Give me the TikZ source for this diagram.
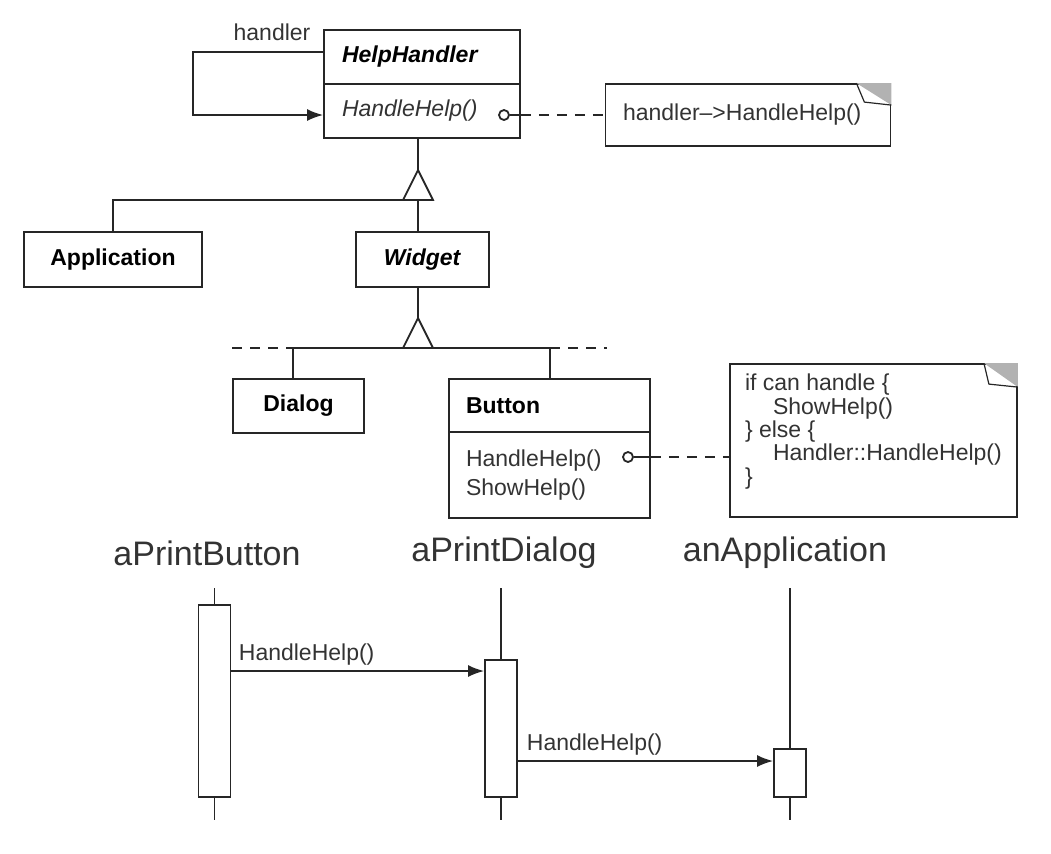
\documentclass[tikz,border=0pt]{standalone}
\usepackage{fontspec}
\setmainfont{Liberation Sans}
\usetikzlibrary{arrows.meta,positioning}

\begin{document}
\begin{tikzpicture}[x=0.5pt,y=-0.5pt,line width=0.9pt,draw=black!85]
                \tikzstyle{every node}+=[inner sep=0pt, text=black!80, font=\fontsize{11.5}{13}\selectfont]
                \tikzstyle{cls}=[draw, rectangle, minimum height=27pt]
                \tikzstyle{note}=[draw, rectangle]
                \tikzstyle{dot}=[draw, circle, fill=white, minimum size=5pt]
                \tikzstyle{call}=[-{Latex[length=8pt,width=6pt]}]
                \tikzstyle{act}=[draw, rectangle, fill=white, minimum width=16pt]
                \tikzstyle{obj}=[font=\fontsize{17}{20}\selectfont]
                \useasboundingbox (0,0) rectangle (1051,853);
                % class diagram
                \node [cls, minimum width=98pt, text width=80pt, align=left] (hh) at (422,57) {\textcolor{black}{\textbf{\textit{HelpHandler}}}};
                \node [cls, minimum width=98pt, text width=80pt, align=left] (hhm) at (422,111) {\textit{HandleHelp()}};
                \node (lbl) at (272,32) {handler};
                \draw [call] ([yshift=2.5pt]hh.west) -- ++(-65pt,0) |- ([yshift=-2pt]hhm.west);
                \node [note, minimum width=142.5pt, minimum height=31pt, text width=125pt, align=left] (n1) at (748,115) {handler--{>}HandleHelp()};
                \fill [gray!60] ([xshift=-17.5pt]n1.north east) -- (n1.north east) -- ([yshift=-11pt]n1.north east) -- cycle;
                \draw [line width=0.6pt] ([xshift=-17.5pt]n1.north east) -- ([xshift=-13.5pt,yshift=-9.5pt]n1.north east) -- ([yshift=-11pt]n1.north east);
                \node [dot] (c1) at (504,115) {};
                \draw (c1) -- (hhm.east |- c1);
                \draw [dashed, dash pattern=on 5pt off 4pt] (hhm.east |- c1) -- (n1.west |- c1);
                \node [cls, minimum width=89pt, minimum height=27.5pt] (app) at (113,259.5) {\textcolor{black}{\textbf{Application}}};
                \node [cls, minimum width=66.5pt, minimum height=27.5pt] (wdg) at (422.5,259.5) {\textcolor{black}{\textbf{\textit{Widget}}}};
                \coordinate (t1) at (418,170);
                \draw (hhm.south -| t1) -- (t1);
                \draw (t1) -- ++(15,30) -- ++(-30,0) -- cycle;
                \draw (403,200) -| (app.north);
                \draw (t1) ++(0,30) -- (wdg.north -| t1);
                \coordinate (t2) at (418,318);
                \draw (wdg.south -| t2) -- (t2);
                \draw (t2) -- ++(15,30) -- ++(-30,0) -- cycle;
                \node [cls, minimum width=65.5pt] (dlg) at (298.5,406) {\textcolor{black}{\textbf{Dialog}}};
                \node [cls, minimum width=100.5pt, minimum height=26.5pt, text width=83.5pt, align=left] (btn) at (549.5,405.5) {\textcolor{black}{\textbf{Button}}};
                \node [cls, minimum width=100.5pt, minimum height=43pt, text width=83.5pt, align=left, font=\fontsize{11.5}{14.5}\selectfont] (btnm) at (549.5,475) {HandleHelp()\\ShowHelp()};
                \coordinate (b1) at (293,348);
                \coordinate (b2) at (550,348);
                \draw (dlg.north -| b1) -- (b1) -- (b2) -- (btn.north -| b2);
                \draw [dashed, dash pattern=on 5pt off 4pt] (232,348) -- (b1);
                \draw [dashed, dash pattern=on 5pt off 4pt] (b2) -- (607,348);
                \node [note, minimum width=143.5pt, minimum height=76.5pt] (n2) at (873.5,440.5) {};
                \node [anchor=north west, align=left, font=\fontsize{11.5}{10}\selectfont] (n2t) at ([xshift=7.5pt,yshift=-5pt]n2.north west) {if can handle \{\\\hspace*{14pt}ShowHelp()\\\} else \{\\\hspace*{14pt}Handler::HandleHelp()\\\}};
                \fill [gray!60] ([xshift=-17pt]n2.north east) -- (n2.north east) -- ([yshift=-12pt]n2.north east) -- cycle;
                \draw [line width=0.6pt] ([xshift=-17pt]n2.north east) -- ([xshift=-14.5pt,yshift=-10.5pt]n2.north east) -- ([yshift=-12pt]n2.north east);
                \node [dot] (c2) at (628,457) {};
                \draw (c2) -- (btnm.east |- c2);
                \draw [dashed, dash pattern=on 5pt off 4pt] (btnm.east |- c2) -- (n2.west |- c2);
                % sequence diagram
                \node [obj] (pb) at (207,553) {aPrintButton};
                \node [obj] (pd) at (504,553) {aPrintDialog};
                \node [obj] (pa) at (785,553) {anApplication};
                \node [act, minimum height=96pt] (a1) at (214.5,701) {};
                \node [act, minimum height=68.5pt] (a2) at (501,728.5) {};
                \node [act, minimum height=24pt] (a3) at (790,773) {};
                \draw (214.5,588) -- (a1.north);
                \draw (a1.south) -- (214.5,820);
                \draw (501,588) -- (a2.north);
                \draw (a2.south) -- (501,820);
                \draw (790,588) -- (a3.north);
                \draw (a3.south) -- (790,820);
                \coordinate (m1) at (0,671);
                \coordinate (m2) at (0,761);
                \draw [call] (a1.east |- m1) -- (a2.west |- m1);
                \node [anchor=west] (l1) at (238,655) {HandleHelp()};
                \draw [call] (a2.east |- m2) -- (a3.west |- m2);
                \node [anchor=west] (l2) at (526,745) {HandleHelp()};
\end{tikzpicture}
\end{document}
